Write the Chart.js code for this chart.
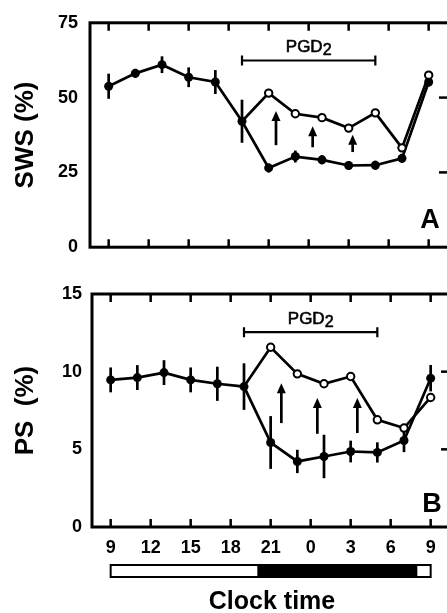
<!DOCTYPE html>
<html>
<head>
<meta charset="utf-8">
<script src="https://cdn.jsdelivr.net/npm/chart.js@4"></script>
<style>
  html, body { margin: 0; padding: 0; background: #fff; overflow: hidden; width: 447px; height: 613px; }
  .panel { position: absolute; left: 0; }
</style>
</head>
<body>
<div class="panel" style="top:0"><canvas id="swsChart" width="460" height="270"></canvas></div>
<div class="panel" style="top:270px"><canvas id="psChart" width="462" height="343"></canvas></div>
<script>
// hours after 09:00, one point every 2 h
const hours = [0, 2, 4, 6, 8, 10, 12, 14, 16, 18, 20, 22, 24];
const xTickHours = [0, 3, 6, 9, 12, 15, 18, 21, 24];
const xTickLabels = ["9", "12", "15", "18", "21", "0", "3", "6", "9"];

// A: slow-wave sleep (%)
const swsSaline = [53.8, 58.1, 61.0, 56.8, 55.2, 42.1, 26.5, 30.3, 29.2, 27.3, 27.4, 29.7, 55.2];
const swsSalineErr = [4.2, 1.5, 2.8, 3.3, 4.0, 7.2, 1.5, 2.0, 1.5, 1.5, 1.5, 1.5, 1.5];
const swsPgd = [null, null, null, null, null, 42.1, 51.5, 44.6, 43.3, 39.8, 44.9, 33.2, 57.5];
const swsTicks = [0, 25, 50, 75];
const swsArrowX = [12.55, 15.3, 18.3];
const swsArrowFrom = [34.1, 33.4, 31.8];
const swsArrowTo = [45.5, 40.4, 37.6];

// B: paradoxical sleep (%)
const psSaline = [9.47, 9.62, 9.94, 9.47, 9.22, 9.04, 5.44, 4.22, 4.54, 4.86, 4.8, 5.57, 9.58];
const psSalineErr = [0.8, 0.8, 0.8, 0.8, 1.1, 1.5, 1.7, 0.75, 1.4, 0.7, 0.65, 0.75, 0.85];
const psPgd = [null, null, null, null, null, 9.04, 11.57, 9.86, 9.22, 9.69, 6.9, 6.37, 8.34];
const psTicks = [0, 5, 10, 15];
const psArrowX = [12.8, 15.5, 18.5];
const psArrowFrom = [6.69, 6.0, 6.05];
const psArrowTo = [9.26, 8.3, 8.3];

// PGD2 infusion period (hours) and light/dark bar
const pgdFrom = 10, pgdTo = 20;
const lightFrom = 0, darkFrom = 11, darkTo = 23, lightTo = 24;
const pgdStartIdx = 5;

const FONT = "'Liberation Sans', Arial, sans-serif";

// error bars, frame, inward ticks, arrows, PGD2 bar, panel letter
function panelPlugin(cfg) {
  return {
    id: "panel" + cfg.letter,
    beforeDatasetsDraw(chart) {
      const { ctx, scales: { x, y } } = chart;
      ctx.save();
      ctx.strokeStyle = "#000";
      ctx.lineWidth = 2.7;
      hours.forEach((h, i) => {
        const px = x.getPixelForValue(h);
        ctx.beginPath();
        ctx.moveTo(px, y.getPixelForValue(cfg.saline[i] - cfg.err[i]));
        ctx.lineTo(px, y.getPixelForValue(cfg.saline[i] + cfg.err[i]));
        ctx.stroke();
      });
      ctx.restore();
    },
    afterDraw(chart) {
      const { ctx, chartArea: a, scales: { x, y } } = chart;
      ctx.save();
      ctx.strokeStyle = "#000";
      ctx.fillStyle = "#000";

      // frame
      ctx.lineWidth = 3;
      ctx.strokeRect(a.left, a.top, a.right - a.left, a.bottom - a.top);

      // inward ticks
      ctx.lineWidth = 2.5;
      xTickHours.forEach(h => {
        const px = x.getPixelForValue(h);
        ctx.beginPath();
        ctx.moveTo(px, a.top); ctx.lineTo(px, a.top + 8);
        ctx.moveTo(px, a.bottom); ctx.lineTo(px, a.bottom - 8);
        ctx.stroke();
      });
      cfg.yTicks.slice(1, -1).forEach(v => {
        const py = y.getPixelForValue(v);
        ctx.beginPath();
        ctx.moveTo(a.right, py); ctx.lineTo(a.right - 11, py);
        ctx.stroke();
      });

      // arrows
      ctx.lineWidth = 2.7;
      cfg.arrowX.forEach((h, i) => {
        const px = x.getPixelForValue(h);
        const y0 = y.getPixelForValue(cfg.arrowFrom[i]);
        const y1 = y.getPixelForValue(cfg.arrowTo[i]);
        ctx.beginPath();
        ctx.moveTo(px, y0); ctx.lineTo(px, y1 + 6);
        ctx.stroke();
        ctx.beginPath();
        ctx.moveTo(px, y1); ctx.lineTo(px - 4.5, y1 + 10); ctx.lineTo(px + 4.5, y1 + 10);
        ctx.closePath();
        ctx.fill();
      });

      // PGD2 bar
      const bx0 = x.getPixelForValue(pgdFrom), bx1 = x.getPixelForValue(pgdTo);
      const by = y.getPixelForValue(cfg.pgdBarY);
      ctx.lineWidth = 2.2;
      ctx.beginPath();
      ctx.moveTo(bx0, by); ctx.lineTo(bx1, by);
      ctx.moveTo(bx0, by - 5); ctx.lineTo(bx0, by + 5);
      ctx.moveTo(bx1, by - 5); ctx.lineTo(bx1, by + 5);
      ctx.stroke();
      ctx.font = "17px " + FONT;
      ctx.textBaseline = "alphabetic";
      const lw = ctx.measureText("PGD").width;
      ctx.font = "16px " + FONT;
      const sw = ctx.measureText("2").width;
      const tx = (bx0 + bx1) / 2 - (lw + sw) / 2;
      const ty = by - 8;
      ctx.lineWidth = 0.6;
      ctx.font = "17px " + FONT;
      ctx.textAlign = "left";
      ctx.fillText("PGD", tx, ty);
      ctx.strokeText("PGD", tx, ty);
      ctx.font = "16px " + FONT;
      ctx.fillText("2", tx + lw, ty + 3);
      ctx.strokeText("2", tx + lw, ty + 3);

      // panel letter
      ctx.font = "bold 27px " + FONT;
      ctx.textAlign = "center";
      ctx.textBaseline = "middle";
      ctx.fillText(cfg.letter, a.right - 20, a.bottom - cfg.letterOffset);

      // light/dark bar under the time axis
      if (cfg.showX) {
        const top = a.bottom + 38, h = 12;
        const l0 = x.getPixelForValue(lightFrom), l1 = x.getPixelForValue(lightTo);
        const d0 = x.getPixelForValue(darkFrom), d1 = x.getPixelForValue(darkTo);
        ctx.fillRect(d0, top, d1 - d0, h);
        ctx.lineWidth = 2;
        ctx.strokeRect(l0, top, l1 - l0, h);
      }
      ctx.restore();
    }
  };
}

function makeChart(id, cfg) {
  return new Chart(document.getElementById(id), {
    type: "line",
    data: {
      datasets: [
        {
          data: hours.map((h, i) => ({ x: h, y: cfg.pgd[i] })),
          order: 0,
          borderColor: "#000",
          borderWidth: 2.7,
          pointRadius: c => (c.dataIndex === pgdStartIdx ? 0 : 3.7),
          pointBackgroundColor: "#fff",
          pointBorderColor: "#000",
          pointBorderWidth: 2,
          spanGaps: false
        },
        {
          data: hours.map((h, i) => ({ x: h, y: cfg.saline[i] })),
          order: 1,
          borderColor: "#000",
          borderWidth: 2.7,
          pointRadius: 4.5,
          pointBackgroundColor: "#000",
          pointBorderWidth: 0
        }
      ]
    },
    options: {
      responsive: false,
      animation: false,
      events: [],
      layout: { padding: { top: cfg.top, right: 10, left: 0, bottom: 0 } },
      plugins: { legend: { display: false }, tooltip: { enabled: false } },
      scales: {
        x: {
          type: "linear",
          min: -1.4,
          max: 25.6,
          grid: { display: false, drawTicks: false },
          border: { display: false },
          afterBuildTicks: s => { s.ticks = xTickHours.map(v => ({ value: v })); },
          afterFit: s => { s.height = cfg.xHeight; },
          ticks: {
            display: cfg.showX,
            autoSkip: false,
            maxRotation: 0,
            padding: 10,
            color: "#000",
            font: { family: FONT, size: 18, weight: "bold" },
            callback: (v, i) => xTickLabels[i]
          },
          title: {
            display: cfg.showX,
            text: "Clock time",
            color: "#000",
            font: { family: FONT, size: 25, weight: "bold" },
            padding: { top: 0, bottom: -4 }
          }
        },
        y: {
          min: 0,
          max: cfg.yTicks[cfg.yTicks.length - 1],
          grid: { display: false, drawTicks: false },
          border: { display: false },
          afterBuildTicks: s => { s.ticks = cfg.yTicks.map(v => ({ value: v })); },
          afterFit: s => { s.width = cfg.yWidth; },
          ticks: {
            padding: cfg.yPad,
            color: "#000",
            font: { family: FONT, size: 18, weight: "bold" }
          },
          title: {
            display: true,
            text: cfg.title,
            color: "#000",
            font: { family: FONT, size: 26, weight: "bold" },
            padding: { top: 10, bottom: 0 }
          }
        }
      }
    },
    plugins: [panelPlugin(cfg)]
  });
}

makeChart("swsChart", {
  letter: "A", title: "SWS (%)", saline: swsSaline, err: swsSalineErr, pgd: swsPgd,
  yTicks: swsTicks, arrowX: swsArrowX, arrowFrom: swsArrowFrom, arrowTo: swsArrowTo,
  pgdBarY: 62.4, top: 18, xHeight: 15, yWidth: 90, yPad: 12, showX: false, letterOffset: 27
});

makeChart("psChart", {
  letter: "B", title: "PS  (%)", saline: psSaline, err: psSalineErr, pgd: psPgd,
  yTicks: psTicks, arrowX: psArrowX, arrowFrom: psArrowFrom, arrowTo: psArrowTo,
  pgdBarY: 12.54, top: 24, xHeight: 86, yWidth: 92, yPad: 10, showX: true, letterOffset: 22
});
</script>
</body>
</html>
